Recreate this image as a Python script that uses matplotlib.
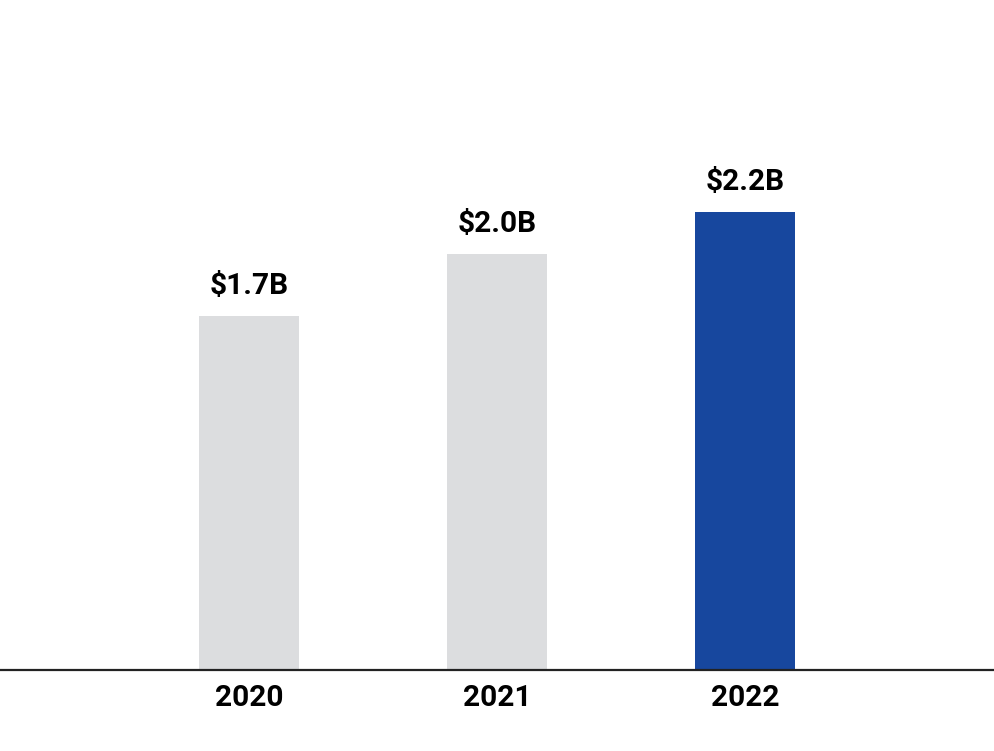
import matplotlib.pyplot as plt

years = ["2020", "2021", "2022"]
revenue = [1.7, 2.0, 2.2]
labels = ["$1.7B", "$2.0B", "$2.2B"]
colors = ["#dcdddf", "#dcdddf", "#17479e"]

plt.rcParams["font.family"] = ["Roboto", "DejaVu Sans"]

fig = plt.figure(figsize=(9.94, 7.51), dpi=100)
ax = fig.add_axes([0, 81 / 751, 1, 670 / 751])

x = range(len(years))
bars = ax.bar(x, revenue, width=0.403, color=colors)

for bar, lab in zip(bars, labels):
    ax.annotate(lab, (bar.get_x() + bar.get_width() / 2, bar.get_height()),
                xytext=(0, 16), textcoords="offset points",
                ha="center", va="baseline", fontsize=21.5, fontweight="bold",
                color="#000000")

ax.set_xlim(-1.004, 3.004)
ax.set_ylim(0, 670 / 208)
ax.set_xticks(list(x))
ax.set_xticklabels(years, fontsize=21.5, fontweight="bold", color="#000000")
ax.tick_params(axis="x", length=0, pad=10)
ax.set_yticks([])

for side in ["top", "right", "left"]:
    ax.spines[side].set_visible(False)
ax.spines["bottom"].set_linewidth(1.6)
ax.spines["bottom"].set_color("#222222")

fig.savefig("out.png", dpi=100)
